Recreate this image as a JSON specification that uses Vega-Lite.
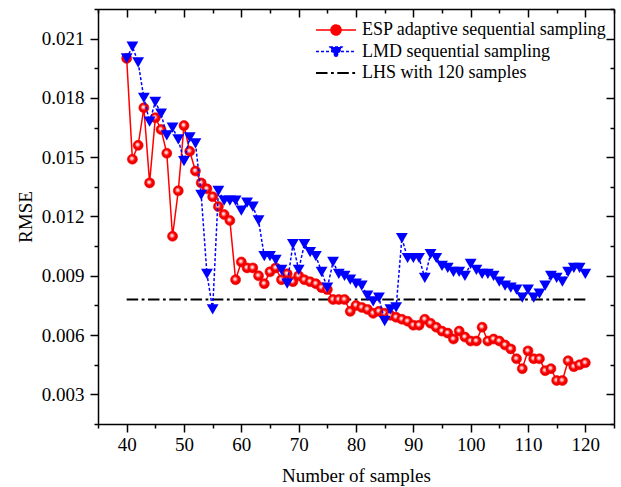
{
  "$schema": "https://vega.github.io/schema/vega-lite/v6.json",
  "width": 516,
  "height": 415,
  "autosize": {"type": "none"},
  "padding": {"left": 98, "top": 9, "right": 7, "bottom": 63},
  "background": "white",
  "config": {
    "view": {"stroke": null},
    "axis": {"grid": false, "domainColor": "black", "domainWidth": 1.5, "tickColor": "black", "tickWidth": 1.5, "labelFont": "Liberation Serif", "labelFontSize": 19, "labelColor": "black", "titleFont": "Liberation Serif", "titleFontSize": 19, "titleFontWeight": "normal", "titleColor": "black", "labelFlush": false, "labelOverlap": false}
  },
  "datasets": {
    "esp": [
      {"n":40,"rmse":0.0200},{"n":41,"rmse":0.0149},{"n":42,"rmse":0.0156},{"n":43,"rmse":0.0175},{"n":44,"rmse":0.0137},
      {"n":45,"rmse":0.0170},{"n":46,"rmse":0.0164},{"n":47,"rmse":0.0152},{"n":48,"rmse":0.0110},{"n":49,"rmse":0.0133},
      {"n":50,"rmse":0.0166},{"n":51,"rmse":0.0153},{"n":52,"rmse":0.0143},{"n":53,"rmse":0.0137},{"n":54,"rmse":0.0134},
      {"n":55,"rmse":0.0130},{"n":56,"rmse":0.0125},{"n":57,"rmse":0.0121},{"n":58,"rmse":0.0118},{"n":59,"rmse":0.0088},
      {"n":60,"rmse":0.0097},{"n":61,"rmse":0.0094},{"n":62,"rmse":0.0094},{"n":63,"rmse":0.0090},{"n":64,"rmse":0.0086},
      {"n":65,"rmse":0.0092},{"n":66,"rmse":0.0094},{"n":67,"rmse":0.0088},{"n":68,"rmse":0.0091},{"n":69,"rmse":0.0087},
      {"n":70,"rmse":0.0090},{"n":71,"rmse":0.0088},{"n":72,"rmse":0.0087},{"n":73,"rmse":0.0086},{"n":74,"rmse":0.0084},
      {"n":75,"rmse":0.0083},{"n":76,"rmse":0.0078},{"n":77,"rmse":0.0078},{"n":78,"rmse":0.0078},{"n":79,"rmse":0.0072},
      {"n":80,"rmse":0.0075},{"n":81,"rmse":0.0074},{"n":82,"rmse":0.0073},{"n":83,"rmse":0.0071},{"n":84,"rmse":0.0072},
      {"n":85,"rmse":0.0071},{"n":86,"rmse":0.0070},{"n":87,"rmse":0.0069},{"n":88,"rmse":0.0068},{"n":89,"rmse":0.0067},
      {"n":90,"rmse":0.0065},{"n":91,"rmse":0.0065},{"n":92,"rmse":0.0068},{"n":93,"rmse":0.0066},{"n":94,"rmse":0.0064},
      {"n":95,"rmse":0.0062},{"n":96,"rmse":0.0061},{"n":97,"rmse":0.0058},{"n":98,"rmse":0.0062},{"n":99,"rmse":0.0059},
      {"n":100,"rmse":0.0057},{"n":101,"rmse":0.0057},{"n":102,"rmse":0.0064},{"n":103,"rmse":0.0057},{"n":104,"rmse":0.0058},
      {"n":105,"rmse":0.0057},{"n":106,"rmse":0.0055},{"n":107,"rmse":0.0053},{"n":108,"rmse":0.0048},{"n":109,"rmse":0.0043},
      {"n":110,"rmse":0.0052},{"n":111,"rmse":0.0048},{"n":112,"rmse":0.0048},{"n":113,"rmse":0.0042},{"n":114,"rmse":0.0043},
      {"n":115,"rmse":0.0037},{"n":116,"rmse":0.0037},{"n":117,"rmse":0.0047},{"n":118,"rmse":0.0044},{"n":119,"rmse":0.0045},
      {"n":120,"rmse":0.0046}
    ],
    "lmd": [
      {"n":40,"rmse":0.0200},{"n":41,"rmse":0.0206},{"n":42,"rmse":0.0198},{"n":43,"rmse":0.0180},{"n":44,"rmse":0.0168},
      {"n":45,"rmse":0.0178},{"n":46,"rmse":0.0172},{"n":47,"rmse":0.0161},{"n":48,"rmse":0.0165},{"n":49,"rmse":0.0159},
      {"n":50,"rmse":0.0148},{"n":51,"rmse":0.0160},{"n":52,"rmse":0.0157},{"n":53,"rmse":0.0131},{"n":54,"rmse":0.0091},
      {"n":55,"rmse":0.0073},{"n":56,"rmse":0.0133},{"n":57,"rmse":0.0128},{"n":58,"rmse":0.0128},{"n":59,"rmse":0.0128},
      {"n":60,"rmse":0.0123},{"n":61,"rmse":0.0127},{"n":62,"rmse":0.0125},{"n":63,"rmse":0.0118},{"n":64,"rmse":0.0100},
      {"n":65,"rmse":0.0100},{"n":66,"rmse":0.0098},{"n":67,"rmse":0.0093},{"n":68,"rmse":0.0086},{"n":69,"rmse":0.0106},
      {"n":70,"rmse":0.0093},{"n":71,"rmse":0.0106},{"n":72,"rmse":0.0102},{"n":73,"rmse":0.0100},{"n":74,"rmse":0.0092},
      {"n":75,"rmse":0.0084},{"n":76,"rmse":0.0097},{"n":77,"rmse":0.0091},{"n":78,"rmse":0.0090},{"n":79,"rmse":0.0088},
      {"n":80,"rmse":0.0086},{"n":81,"rmse":0.0085},{"n":82,"rmse":0.0080},{"n":83,"rmse":0.0077},{"n":84,"rmse":0.0079},
      {"n":85,"rmse":0.0067},{"n":86,"rmse":0.0073},{"n":87,"rmse":0.0074},{"n":88,"rmse":0.0109},{"n":89,"rmse":0.0099},
      {"n":90,"rmse":0.0099},{"n":91,"rmse":0.0099},{"n":92,"rmse":0.0089},{"n":93,"rmse":0.0101},{"n":94,"rmse":0.0099},
      {"n":95,"rmse":0.0095},{"n":96,"rmse":0.0094},{"n":97,"rmse":0.0092},{"n":98,"rmse":0.0092},{"n":99,"rmse":0.0090},
      {"n":100,"rmse":0.0096},{"n":101,"rmse":0.0093},{"n":102,"rmse":0.0091},{"n":103,"rmse":0.0091},{"n":104,"rmse":0.0090},
      {"n":105,"rmse":0.0087},{"n":106,"rmse":0.0085},{"n":107,"rmse":0.0084},{"n":108,"rmse":0.0083},{"n":109,"rmse":0.0079},
      {"n":110,"rmse":0.0083},{"n":111,"rmse":0.0079},{"n":112,"rmse":0.0081},{"n":113,"rmse":0.0085},{"n":114,"rmse":0.0090},
      {"n":115,"rmse":0.0089},{"n":116,"rmse":0.0087},{"n":117,"rmse":0.0092},{"n":118,"rmse":0.0094},{"n":119,"rmse":0.0094},
      {"n":120,"rmse":0.0091}
    ],
    "lhs": [
      {"n":40,"rmse":0.0078},{"n":120,"rmse":0.0078}
    ]
  },
  "resolve": {"axis": {"x": "independent", "y": "independent"}},
  "layer": [
    {
      "data": {"name": "lhs"},
      "transform": [{"calculate": "'LHS with 120 samples'", "as": "series"}],
      "mark": {"type": "line", "strokeWidth": 2, "strokeDash": [11.5, 3.5, 2.8, 3.5]},
      "encoding": {
        "x": {"field": "n", "type": "quantitative", "scale": {"domain": [35, 125], "nice": false, "zero": false},
              "axis": {"orient": "bottom", "values": [40,50,60,70,80,90,100,110,120], "tickSize": 8, "labelPadding": 3, "title": "Number of samples", "titlePadding": 12}},
        "y": {"field": "rmse", "type": "quantitative", "scale": {"domain": [0.0015, 0.0225], "nice": false, "zero": false},
              "axis": {"orient": "left", "values": [0.003,0.006,0.009,0.012,0.015,0.018,0.021], "format": ".3f", "tickSize": 8, "labelPadding": 6, "title": "RMSE", "titlePadding": 6}},
        "color": {"field": "series", "type": "nominal",
          "scale": {"domain": ["ESP adaptive sequential sampling", "LMD sequential sampling", "LHS with 120 samples"], "range": ["#ff0000", "#0000ff", "#000000"]},
          "legend": {
            "title": null, "orient": "none", "legendX": 237, "legendY": 12,
            "symbolSize": 1600, "symbolOffset": -8, "labelOffset": 17, "rowPadding": 3.5, "padding": 0,
            "labelFont": "Liberation Serif", "labelFontSize": 18, "labelColor": "black", "labelLimit": 400,
            "encode": {"symbols": {"update": {
              "shape": {"signal": "datum.value === 'ESP adaptive sequential sampling' ? 'M-1,0H1M0.25,0A0.25,0.25,0,1,1,-0.25,0A0.25,0.25,0,1,1,0.25,0Z' : datum.value === 'LMD sequential sampling' ? 'M-1,0H1M-0.3,-0.22H0.3L0,0.3Z' : 'M-1,0H1'"},
              "size": {"value": 1600},
              "fill": {"signal": "datum.value === 'ESP adaptive sequential sampling' ? '#ff0000' : datum.value === 'LMD sequential sampling' ? '#0000ff' : 'transparent'"},
              "stroke": {"signal": "datum.value === 'ESP adaptive sequential sampling' ? '#ff0000' : datum.value === 'LMD sequential sampling' ? '#0000ff' : '#000000'"},
              "strokeDash": {"signal": "datum.value === 'LMD sequential sampling' ? [3,2] : datum.value === 'LHS with 120 samples' ? [11.5,3.5,2.8,3.5] : [1,0]"},
              "strokeWidth": {"signal": "datum.value === 'LHS with 120 samples' ? 2 : 1.5"},
              "opacity": {"value": 1}
            }}}
          }}
      }
    },
    {
      "data": {"name": "esp"},
      "transform": [{"calculate": "'ESP adaptive sequential sampling'", "as": "series"}],
      "mark": {"type": "line", "strokeWidth": 1.5},
      "encoding": {
        "x": {"field": "n", "type": "quantitative", "axis": {"orient": "bottom", "values": [35,45,55,65,75,85,95,105,115,125], "tickSize": 4, "labels": false, "domain": false, "title": null}},
        "y": {"field": "rmse", "type": "quantitative", "axis": {"orient": "left", "values": [0.0015,0.0045,0.0075,0.0105,0.0135,0.0165,0.0195,0.0225], "tickSize": 4, "labels": false, "domain": false, "title": null}},
        "color": {"field": "series", "type": "nominal"}
      }
    },
    {
      "data": {"name": "esp"},
      "mark": {"type": "point", "shape": "circle", "filled": true, "size": 100, "opacity": 1, "stroke": "#ff0000", "strokeWidth": 0.6,
        "fill": {"gradient": "radial", "x1": 0.42, "y1": 0.4, "r1": 0, "x2": 0.5, "y2": 0.5, "r2": 0.55,
          "stops": [{"offset": 0, "color": "#ffffff"}, {"offset": 0.22, "color": "#ffc0c0"}, {"offset": 0.5, "color": "#ff0000"}, {"offset": 1, "color": "#d80000"}]}},
      "encoding": {
        "x": {"field": "n", "type": "quantitative", "axis": {"orient": "top", "values": [40,50,60,70,80,90,100,110,120], "tickSize": -8, "labels": false, "title": null}},
        "y": {"field": "rmse", "type": "quantitative", "axis": {"orient": "right", "values": [0.003,0.006,0.009,0.012,0.015,0.018,0.021], "tickSize": -8, "labels": false, "title": null}}
      }
    },
    {
      "data": {"name": "lmd"},
      "transform": [{"calculate": "'LMD sequential sampling'", "as": "series"}],
      "mark": {"type": "line", "strokeWidth": 1.5, "strokeDash": [3, 2]},
      "encoding": {
        "x": {"field": "n", "type": "quantitative", "axis": {"orient": "top", "values": [35,45,55,65,75,85,95,105,115,125], "tickSize": -4, "labels": false, "domain": false, "title": null}},
        "y": {"field": "rmse", "type": "quantitative", "axis": {"orient": "right", "values": [0.0015,0.0045,0.0075,0.0105,0.0135,0.0165,0.0195,0.0225], "tickSize": -4, "labels": false, "domain": false, "title": null}},
        "color": {"field": "series", "type": "nominal"}
      }
    },
    {
      "data": {"name": "lmd"},
      "mark": {"type": "point", "shape": "triangle-down", "filled": true, "size": 140, "opacity": 1, "color": "#0000ff"},
      "encoding": {
        "x": {"field": "n", "type": "quantitative", "axis": null},
        "y": {"field": "rmse", "type": "quantitative", "axis": null}
      }
    }
  ]
}
